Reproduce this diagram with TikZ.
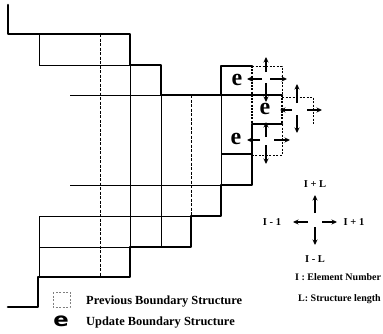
\documentclass[tikz,border=0pt]{standalone}
\usepackage{fontspec}
\setmainfont{Liberation Serif}
\newfontfamily\efont{DejaVu Sans}
\usetikzlibrary{arrows.meta}
\begin{document}
\begin{tikzpicture}[x=1pt,y=-1pt,
  thickb/.style={line width=2.6pt, line join=round, line cap=round},
  thinl/.style={line width=0.8pt},
  gridd/.style={line width=0.8pt, dash pattern=on 3pt off 1.5pt},
  edged/.style={line width=1.1pt, dash pattern=on 2pt off 1.2pt},
  boxd/.style={line width=0.8pt, dash pattern=on 2pt off 1.5pt},
  arr/.style={line width=1.1pt, -{Stealth[length=5.5pt,width=5pt]}},
  elabel/.style={font=\bfseries\fontsize{24}{24}\selectfont, inner sep=0pt},
  lbl/.style={font=\bfseries\fontsize{10.5}{12}\selectfont, inner sep=0pt},
  leglbl/.style={font=\bfseries\fontsize{12.4}{14}\selectfont, inner sep=0pt, anchor=west},
]
\useasboundingbox (0,0) rectangle (383,333);
% thin grid (previous structure)
\draw[thinl] (39,34) -- (39,65) -- (130,65);
\draw[thinl] (70,95) -- (161,95);
\draw[gridd] (100,34) -- (100,277);
\draw[thinl] (130,65) -- (130,247);
\draw[thinl] (161,95) -- (161,247);
\draw[gridd] (191,95) -- (191,216);
\draw[thinl] (221,95) -- (221,185);
\draw[thinl] (70,185) -- (221,185);
\draw[thinl] (39,216) -- (191,216);
\draw[thinl] (39,247) -- (130,247);
\draw[thinl] (39,216) -- (39,277);
% updated boundary
\draw[thickb] (8,5) -- (8,34) -- (130,34) -- (130,65) -- (161,65) -- (161,95) -- (282,95);
\draw[thickb] (221,95) -- (221,66) -- (252,66);
\draw[thickb] (282,124) -- (252,124) -- (252,185) -- (221,185) -- (221,216) -- (191,216)
  -- (191,247) -- (130,247) -- (130,277) -- (38,277) -- (38,307) -- (8,307);
\draw[line width=1.4pt] (221,154) -- (252,154);
% element edges
\draw[edged] (252,66) -- (252,95);
\draw[edged] (252,95) -- (252,124);
\draw[edged] (282,95) -- (282,124);
% neighbour boxes
\draw[boxd] (252,66) -- (282,66) -- (282,95);
\draw[boxd] (282,97) -- (313,97) -- (313,125);
\draw[boxd] (282,124) -- (282,155) -- (252,155);
% elements
\node[elabel] (e1) at (237,80) {e};
\node[elabel] (e2) at (265,109) {e};
\node[elabel] (e3) at (236,139) {e};
% cross 1
\draw[arr] (266,72) -- (266,57);
\draw[arr] (266,83) -- (266,102);
\draw[arr] (262,79) -- (247,79);
\draw[arr] (270,79) -- (287,79);
% cross 2
\draw[arr] (297,103) -- (297,84);
\draw[arr] (297,115) -- (297,133);
\draw[arr] (292,110) -- (280,110);
\draw[arr] (307,110) -- (322,110);
% cross 3
\draw[arr] (266,137) -- (266,122);
\draw[arr] (266,145) -- (266,164);
\draw[arr] (260,140) -- (247,140);
\draw[arr] (274,140) -- (290,140);
% legend cross
\draw[arr] (315,213) -- (315,195);
\draw[arr] (315,227) -- (315,245);
\draw[arr] (308,222) -- (293,222);
\draw[arr] (322,222) -- (337,222);
\node[lbl] (ipl) at (315,184) {I + L};
\node[lbl] (im1) at (272,222) {I - 1};
\node[lbl] (ip1) at (354,222) {I + 1};
\node[lbl] (iml) at (315,259) {I - L};
\node[lbl, anchor=west, font=\bfseries\fontsize{10}{12}\selectfont] (inum) at (295,277) {I : Element Number};
\node[lbl, anchor=west, font=\bfseries\fontsize{10}{12}\selectfont] (llen) at (298,299) {L: Structure length};
% bottom legend
\draw[boxd, line width=0.5pt, gray] (53,292) rectangle (70,307);
\node[leglbl] (prev) at (86,302) {Previous Boundary Structure};
\node[inner sep=0pt, xscale=1.2, font=\efont\bfseries\fontsize{19}{19}\selectfont] (le) at (61,321) {e};
\node[leglbl] (upd) at (86,323) {Update Boundary Structure};
\end{tikzpicture}
\end{document}
